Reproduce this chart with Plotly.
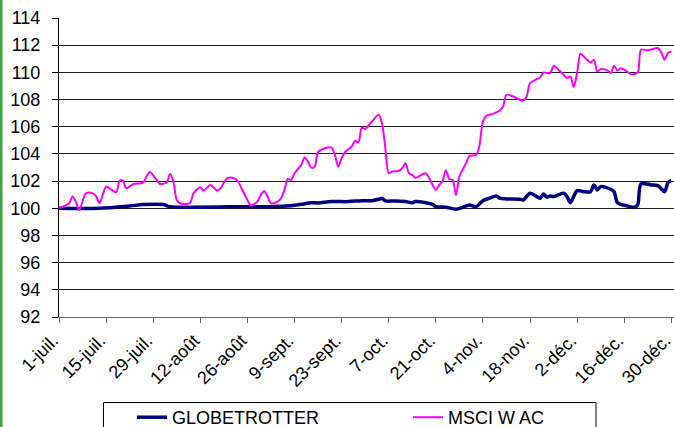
import pandas as pd
import plotly.graph_objects as go

# ---- data ----
start_date = "2013-07-01"

tick_days = [0, 14, 28, 42, 56, 70, 84, 98, 112, 126, 140, 154, 168, 182]
tick_labels = ["1-juil.", "15-juil.", "29-juil.", "12-août", "26-août", "9-sept.",
               "23-sept.", "7-oct.", "21-oct.", "4-nov.", "18-nov.", "2-déc.",
               "16-déc.", "30-déc."]

globe_days = [0, 12, 21, 25, 31, 33, 56, 62, 69, 72, 75, 77, 81, 86, 90, 93, 95, 96,
              97, 100, 103, 105, 106, 109, 111, 112, 115, 118, 120, 122, 124, 126,
              128, 130, 131, 133, 137, 138, 140, 142, 143, 144, 145, 146, 147, 150,
              151, 152, 154, 156, 158, 159, 160, 161, 164, 165, 166, 169, 171, 172,
              173, 176, 178, 180, 181, 182]
globe_values = [100.0, 100.0, 100.17, 100.27, 100.27, 100.12, 100.12, 100.12, 100.19,
                100.29, 100.41, 100.39, 100.49, 100.49, 100.56, 100.56, 100.66, 100.74,
                100.54, 100.54, 100.49, 100.41, 100.49, 100.41, 100.29, 100.12, 100.07,
                99.93, 100.07, 100.24, 100.12, 100.56, 100.74, 100.91, 100.74, 100.69,
                100.66, 100.61, 101.1, 100.86, 100.74, 101.05, 100.81, 100.91, 100.86,
                101.1, 100.86, 100.41, 101.3, 101.22, 101.22, 101.72, 101.35, 101.59,
                101.4, 101.22, 100.41, 100.17, 100.07, 100.24, 101.79, 101.72, 101.67,
                101.22, 101.89, 102.03]

msci_days = [0, 3, 4, 5, 6, 8, 10, 11, 12, 13, 14, 15, 17, 18, 19, 20, 22, 25, 26, 27,
             29, 30, 32, 33, 34, 35, 36, 38, 39, 40, 42, 43, 45, 47, 48, 50, 52, 53, 55,
             56, 57, 58, 59, 60, 61, 62, 63, 65, 66, 67, 68, 69, 70, 72, 73, 74, 75, 76,
             77, 79, 81, 82, 83, 84, 85, 87, 88, 89, 90, 91, 93, 95, 96, 97, 98, 99, 101,
             102, 103, 104, 105, 106, 108, 109, 110, 112, 113, 114, 115, 116, 117, 118,
             119, 121, 122, 124, 125, 126, 127, 129, 131, 132, 133, 135, 137, 138, 139,
             140, 142, 143, 144, 146, 147, 148, 150, 151, 152, 153, 154, 155, 156, 158,
             159, 160, 161, 163, 164, 165, 166, 167, 169, 170, 172, 173, 175, 178, 179,
             180, 181, 182]
msci_values = [100.0, 100.37, 100.86, 100.49, 99.87, 101.1, 101.1, 100.9, 100.37, 100.98,
               101.6, 101.47, 101.18, 102.03, 102.03, 101.47, 101.77, 101.89, 102.33,
               102.67, 102.08, 101.79, 101.89, 102.53, 101.96, 100.61, 100.37, 100.32,
               100.41, 101.1, 101.55, 101.3, 101.72, 101.3, 101.47, 102.21, 102.21,
               102.03, 101.1, 100.6, 100.2, 100.3, 100.5, 100.98, 101.27, 100.86, 100.37,
               100.49, 100.74, 101.35, 102.16, 102.09, 102.58, 103.19, 103.73, 103.43,
               102.99, 103.06, 104.13, 104.42, 104.47, 103.93, 103.06, 103.68, 104.13,
               104.54, 104.96, 104.86, 105.94, 105.84, 106.38, 106.88, 106.26, 104.42,
               102.58, 102.7, 102.75, 102.95, 103.32, 102.58, 102.45, 102.25, 102.5,
               102.58, 102.25, 101.35, 101.72, 102.0, 102.8, 102.14, 102.09, 100.98,
               102.33, 103.32, 103.85, 103.93, 104.66, 106.38, 106.8, 106.95, 107.19,
               107.49, 108.35, 108.22, 107.98, 107.93, 108.22, 109.21, 109.5, 109.62,
               109.99, 109.94, 110.48, 110.31, 109.82, 109.58, 109.7, 108.92, 109.95,
               111.37, 111.17, 110.73, 110.93, 110.07, 110.24, 110.14, 109.95, 110.48,
               110.14, 110.31, 110.04, 109.87, 109.99, 111.67, 111.62, 111.79, 111.47,
               110.93, 111.42, 111.54]

series_names = ["GLOBETROTTER", "MSCI W AC"]
y_ticks = list(range(92, 115, 2))

# ---- build ----
t0 = pd.Timestamp(start_date)
to_dates = lambda days: [t0 + pd.Timedelta(days=d) for d in days]

W, H = 674, 427
ML, MR, MT, MB = 59, 0, 18, 110
PW, PH = W - ML - MR, H - MT - MB


def px_x(px):
    return (px - ML) / PW


def px_y(py):
    return (H - MB - py) / PH


FONT = "Liberation Sans, Arial, sans-serif"

fig = go.Figure()
fig.add_trace(go.Scatter(
    x=to_dates(globe_days), y=globe_values, name=series_names[0], mode="lines",
    legendwidth=231,
    line=dict(color="#000080", width=3.5, shape="spline", smoothing=0.8)))
fig.add_trace(go.Scatter(
    x=to_dates(msci_days), y=msci_values, name=series_names[1], mode="lines",
    line=dict(color="#FF00FF", width=2, shape="spline", smoothing=0.8)))

fig.update_layout(
    width=W, height=H,
    margin=dict(l=ML, r=MR, t=MT, b=MB, pad=0, autoexpand=False),
    paper_bgcolor="white", plot_bgcolor="white",
    font=dict(family=FONT, size=18, color="black"),
    showlegend=True,
    legend=dict(orientation="h", x=px_x(132), y=px_y(399), xanchor="left",
                yanchor="top", bgcolor="rgba(0,0,0,0)", borderwidth=0,
                font=dict(size=18), itemwidth=30, tracegroupgap=0),
    shapes=[
        dict(type="rect", xref="paper", yref="paper",
             x0=px_x(103.5), x1=px_x(596), y0=px_y(402.5), y1=px_y(440),
             line=dict(color="black", width=1), fillcolor="rgba(0,0,0,0)"),
        dict(type="rect", xref="paper", yref="paper",
             x0=px_x(0), x1=px_x(2.5), y0=px_y(-5), y1=px_y(432),
             line=dict(width=0), fillcolor="#3DA43D", layer="above"),
    ],
)

fig.update_xaxes(
    type="date",
    range=[t0, t0 + pd.Timedelta(days=tick_days[-1] + 0.8)],
    tickmode="array", tickvals=to_dates(tick_days), ticktext=tick_labels,
    tickangle=-45, ticks="outside", ticklen=5, tickcolor="#666666", tickwidth=1,
    showline=True, linecolor="#666666", linewidth=1,
    showgrid=False, zeroline=False, tickfont=dict(size=18),
    automargin=False, ticklabeloverflow="allow", ticklabelshift=-6,
)
fig.update_yaxes(
    range=[92, 114], tickmode="array", tickvals=y_ticks,
    ticks="outside", ticklen=6, tickcolor="black", tickwidth=1,
    showline=True, linecolor="black", linewidth=1,
    showgrid=True, gridcolor="#1a1a1a", gridwidth=1, zeroline=False,
    tickfont=dict(size=18), ticklabelstandoff=8, automargin=False,
)

fig.write_html(
    "out.html",
    config={"displayModeBar": False},
    post_script="document.body.style.margin='0';document.body.style.overflow='hidden';",
)
